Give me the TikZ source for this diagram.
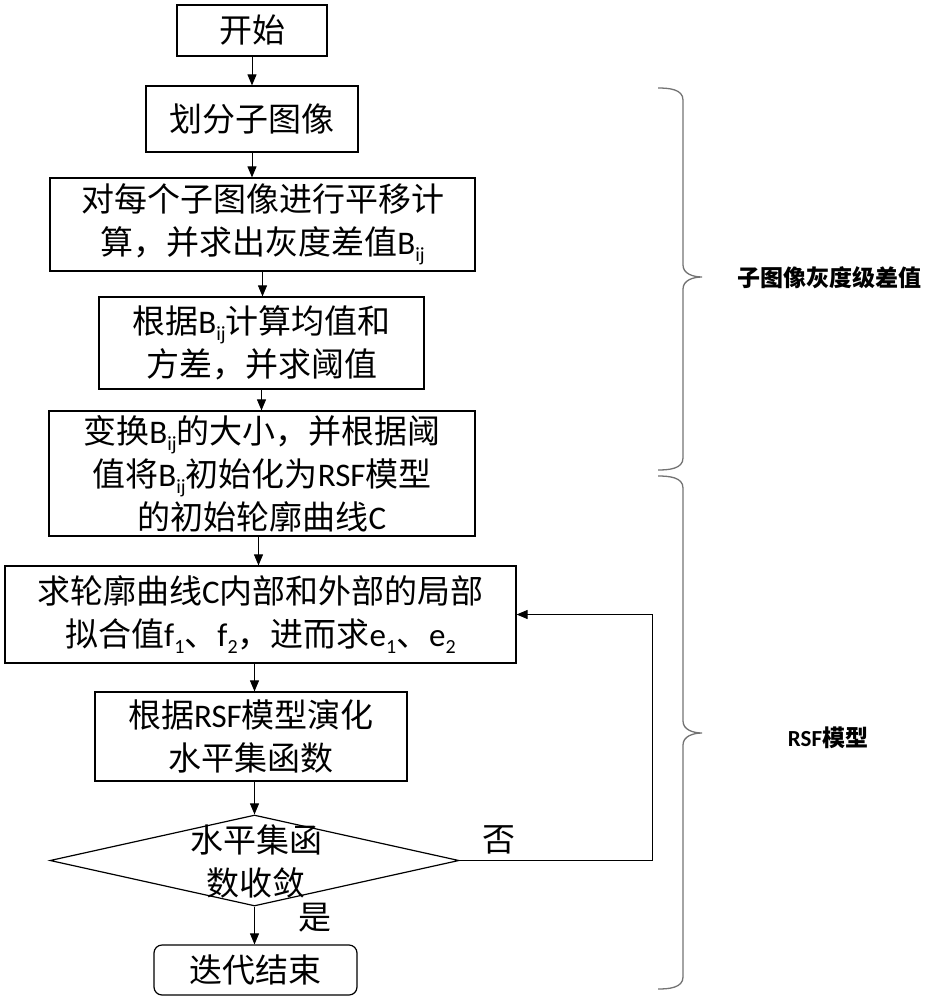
\documentclass[tikz,border=0pt]{standalone}
\usepackage{fontspec}
\setmainfont{Noto Sans CJK SC}
\newfontfamily\lat{Carlito}
\usetikzlibrary{arrows.meta,shapes.geometric}
\newcommand\sbs[1]{\raisebox{-0.22em}{\fontsize{20}{20}\selectfont #1}}
\newcommand\Bij{{\lat B\sbs{ij}}}
\begin{document}
\begin{tikzpicture}[x=1pt,y=-1pt,
  box/.style={draw, line width=1.2pt, inner sep=0pt, align=center, font=\fontsize{33}{43}\selectfont},
  plain/.style={inner sep=0pt, align=center, font=\fontsize{33}{43}\selectfont},
  arr/.style={-{Triangle[length=11pt,width=9pt]}, line width=1pt},
  brc/.style={draw=black!55, line width=1.3pt},
  side/.style={inner sep=0pt, font=\fontsize{23}{28}\selectfont\bfseries}]
\useasboundingbox (0,0) rectangle (927,1000);
\node[box, minimum width=150pt, minimum height=51pt] (n1) at (252,30.5) {开始};
\node[box, minimum width=212pt, minimum height=66pt] (n2) at (252,119) {划分子图像};
\node[box, minimum width=425pt, minimum height=93pt] (n3) at (262.5,224.5) {对每个子图像进行平移计\\算，并求出灰度差值\Bij};
\node[box, minimum width=325pt, minimum height=92pt] (n4) at (261.5,343) {根据\Bij 计算均值和\\方差，并求阈值};
\node[box, minimum width=426pt, minimum height=125pt] (n5) at (262,473.5) {变换\Bij 的大小，并根据阈\\值将\Bij 初始化为{\lat RSF}模型\\的初始轮廓曲线{\lat C}};
\node[box, minimum width=511pt, minimum height=97pt] (n6) at (260.5,614.5) {求轮廓曲线{\lat C}内部和外部的局部\\拟合值{\lat f\sbs{1}}、{\lat f\sbs{2}}，进而求{\lat e\sbs{1}}、{\lat e\sbs{2}}};
\node[box, minimum width=312pt, minimum height=89pt] (n7) at (251,736.5) {根据{\lat RSF}模型演化\\水平集函数};
\node[draw, line width=1.2pt, shape=diamond, inner sep=0pt, minimum width=409pt, minimum height=91pt] (d) at (254.5,860.5) {};
\node[plain] (dt) at (256,861) {水平集函\\数收敛};
\node[box, rounded corners=8pt, minimum width=203pt, minimum height=50pt] (e) at (255.5,970) {迭代结束};
\node[plain] (no) at (499,840) {否};
\node[plain] (yes) at (315,918) {是};
\coordinate (fbx) at (652,0);
\draw[arr] (n1.south) -- (n2.north -| n1.south);
\draw[arr] (n2.south) -- (n3.north -| n2.south);
\draw[arr] (n3.south) -- (n4.north -| n3.south);
\draw[arr] (n4.south) -- (n5.north -| n4.south);
\draw[arr] (n5.south -| n6.south) ++(-2,0) -- ([xshift=-2pt]n6.north);
\draw[arr] (n7.south -| d.north) -- (d.north);
\draw[arr] (n6.south -| d.north) -- (n7.north -| d.north);
\draw[arr] (d.south) -- (e.north -| d.south);
\draw[arr] (d.east) -- (d.east -| fbx) |- (n6.east);
% braces
\draw[brc] (658,88) to[out=0,in=90] (683,100) -- (683,265) to[out=-90,in=180] (702,277) to[out=180,in=90] (683,289) -- (683,458) to[out=-90,in=0] (658,470);
\draw[brc] (658,476) to[out=0,in=90] (683,488) -- (683,721) to[out=-90,in=180] (702,733) to[out=180,in=90] (683,745) -- (683,977) to[out=-90,in=0] (658,989);
\node[side] (l1) at (829,278) {子图像灰度级差值};
\node[side] (l2) at (828,738) {{\lat RSF}模型};
\end{tikzpicture}
\end{document}
